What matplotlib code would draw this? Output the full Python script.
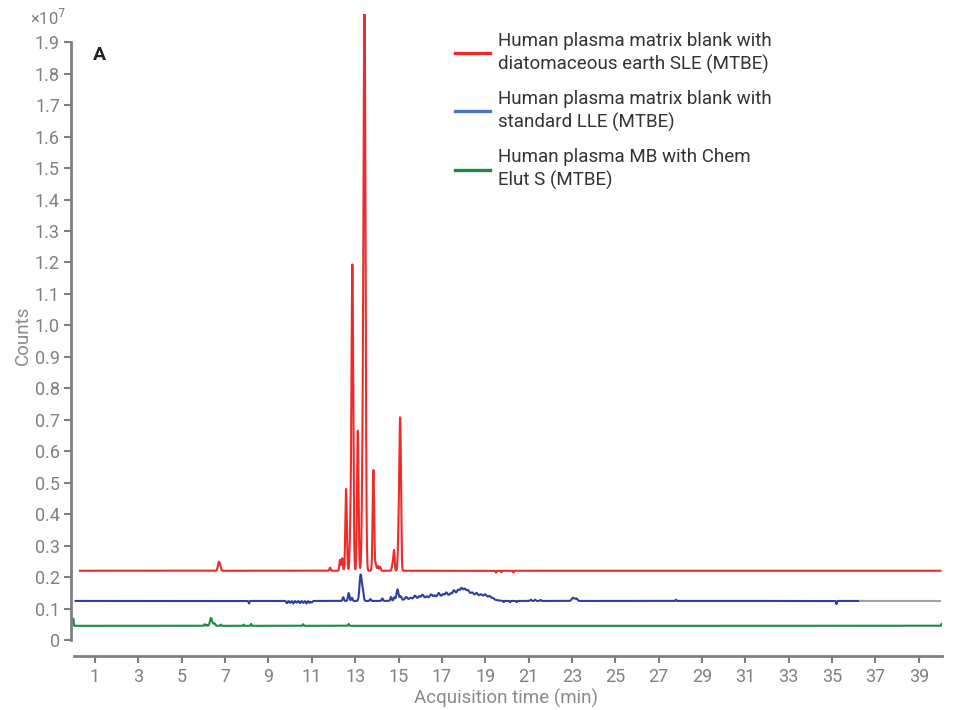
import numpy as np
import matplotlib
matplotlib.use("Agg")
import matplotlib.pyplot as plt
from matplotlib.lines import Line2D

plt.rcParams['font.family'] = ['Roboto', 'DejaVu Sans']

# ---------------- data ----------------
x_ticks = [1, 3, 5, 7, 9, 11, 13, 15, 17, 19, 21, 23, 25, 27, 29, 31, 33, 35, 37, 39]
y_ticks = [0, 0.1, 0.2, 0.3, 0.4, 0.5, 0.6, 0.7, 0.8, 0.9, 1.0, 1.1, 1.2, 1.3, 1.4, 1.5, 1.6, 1.7, 1.8, 1.9]
y_ticklabels = ["0", "0.1", "0.2", "0.3", "0.4", "0.5", "0.6", "0.7", "0.8", "0.9", "1.0",
                "1.1", "1.2", "1.3", "1.4", "1.5", "1.6", "1.7", "1.8", "1.9"]

series_names = ["Human plasma matrix blank with\ndiatomaceous earth SLE (MTBE)",
                "Human plasma matrix blank with\nstandard LLE (MTBE)",
                "Human plasma MB with Chem\nElut S (MTBE)"]

# red trace: run range, baseline (x1e7 counts), peak table (time, height above baseline, width)
red_range = [0.3, 40.0]
red_base = 0.22
red_rt = [6.70, 6.76, 11.84, 12.30, 12.40, 12.58, 12.78, 12.87, 13.12,
          13.34, 13.43, 13.84, 13.95, 14.05, 14.15, 14.72, 14.79, 15.02, 15.08,
          19.50, 19.75, 20.30]
red_h = [0.022, 0.015, 0.010, 0.035, 0.040, 0.26, 0.12, 0.97, 0.445,
         0.25, 1.85, 0.32, 0.020, 0.015, 0.012, 0.020, 0.065, 0.16, 0.43,
         -0.006, -0.005, -0.006]
red_w = [0.04, 0.04, 0.03, 0.03, 0.03, 0.035, 0.035, 0.04, 0.035,
         0.04, 0.045, 0.035, 0.03, 0.03, 0.03, 0.03, 0.03, 0.04, 0.035,
         0.02, 0.02, 0.02]

# blue trace
blue_range = [0.1, 36.3]
blue_base = 0.124
blue_rt = [8.10, 9.85, 10.00, 10.15, 10.30, 10.45, 10.60, 10.75, 10.90, 11.00,
           12.45, 12.70, 12.85, 13.25, 13.35, 13.70, 14.25, 14.65, 14.80, 14.95, 15.10,
           15.35, 15.55, 15.75, 15.95, 16.10, 16.30, 16.50, 16.65, 16.85, 17.05, 17.20,
           17.40, 17.55, 17.75, 17.90, 18.05, 18.20, 18.40, 18.60, 18.80, 19.00, 19.20,
           19.35, 19.85, 20.15, 20.45, 21.10, 21.30, 21.55, 23.05, 23.20, 27.80, 35.20,
           16.00, 17.30, 18.05, 18.90]
blue_h = [-0.008, -0.007, -0.006, -0.008, -0.005, -0.007, -0.006, -0.008, -0.006, -0.005,
          0.012, 0.025, 0.010, 0.083, 0.030, 0.006, 0.008, 0.012, 0.010, 0.035, 0.012,
          0.008, 0.004, 0.009, 0.006, 0.010, 0.004, 0.009, 0.005, 0.011, 0.006, 0.010,
          0.005, 0.012, 0.009, 0.012, 0.010, 0.008, 0.006, 0.008, 0.005, 0.007, 0.006,
          0.004, -0.004, -0.004, -0.004, 0.004, 0.004, 0.003, 0.010, 0.008, 0.004, -0.010,
          0.008, 0.015, 0.022, 0.014]
blue_w = [0.02, 0.03, 0.03, 0.03, 0.03, 0.03, 0.03, 0.03, 0.03, 0.03,
          0.03, 0.035, 0.03, 0.05, 0.04, 0.03, 0.03, 0.03, 0.03, 0.05, 0.04,
          0.05, 0.04, 0.05, 0.04, 0.05, 0.04, 0.05, 0.04, 0.05, 0.04, 0.05,
          0.04, 0.05, 0.05, 0.05, 0.05, 0.05, 0.05, 0.05, 0.05, 0.05, 0.05,
          0.04, 0.02, 0.02, 0.02, 0.03, 0.03, 0.03, 0.06, 0.05, 0.02, 0.02,
          0.60, 0.60, 0.35, 0.35]
grey_range = [36.3, 40.0]

# green trace
green_range = [0.0, 40.05]
green_base = 0.045
green_rt = [0.0, 6.05, 6.15, 6.35, 6.50, 6.80, 7.85, 8.20, 10.60, 12.70, 40.05]
green_h = [0.022, 0.005, 0.004, 0.025, 0.008, 0.004, 0.004, 0.006, 0.005, 0.006, 0.006]
green_w = [0.012, 0.02, 0.02, 0.05, 0.04, 0.02, 0.015, 0.02, 0.02, 0.02, 0.012]


def trace(rng, base, rts, hs, ws):
    t = np.arange(rng[0], rng[1] + 1e-9, 0.004)
    y = np.full_like(t, base)
    for r, h, w in zip(rts, hs, ws):
        y += h * np.exp(-0.5 * ((t - r) / w) ** 2)
    return t, y


# ---------------- figure ----------------
fig = plt.figure(figsize=(9.56, 7.10), dpi=100)
ax = fig.add_axes([71 / 956, 1 - 656 / 710, 871 / 956, 642 / 710])

grey = '#7f7f7f'
tr, yr = trace(red_range, red_base, red_rt, red_h, red_w)
tb, yb = trace(blue_range, blue_base, blue_rt, blue_h, blue_w)
tg, yg = trace(green_range, green_base, green_rt, green_h, green_w)

ax.plot(tr, yr, color='#ee2a2a', lw=1.5, zorder=3)
ax.plot(tb, yb, color='#2e3f9e', lw=1.5, zorder=2)
ax.plot(grey_range, [blue_base, blue_base], color='#a0a0a0', lw=1.5, zorder=2)
ax.plot(tg, yg, color='#1b8c47', lw=1.5, zorder=2)

ax.set_xlim(-0.11, 40.07)
ax.set_ylim(-0.051, 1.99)

for s in ['top', 'right']:
    ax.spines[s].set_visible(False)
for s in ['left', 'bottom']:
    ax.spines[s].set_color(grey)
    ax.spines[s].set_linewidth(2)
ax.spines['left'].set_bounds(0, 1.9)
ax.spines['bottom'].set_bounds(0.03, 40.07)

ax.set_xticks(x_ticks)
ax.set_yticks(y_ticks)
ax.set_yticklabels(y_ticklabels)
ax.tick_params(axis='both', colors=grey, labelcolor='#808080', labelsize=13,
               width=1.5, length=5, direction='out')
ax.tick_params(axis='x', pad=4)
ax.tick_params(axis='y', pad=3)

ax.set_xlabel('Acquisition time (min)', color='#8a8a8a', fontsize=13.5, labelpad=2)
ax.set_ylabel('Counts', color='#8a8a8a', fontsize=13.5, labelpad=2)

fig.text(30 / 956, 1 - 18 / 710, '×10$^{7}$', color='#808080', fontsize=12,
         va='center', ha='left')
fig.text(93 / 956, 1 - 55 / 710, 'A', fontsize=14, fontweight='bold', color='#222222',
         va='center', ha='left')

handles = [Line2D([], [], color='#ee2a2a', lw=2.4),
           Line2D([], [], color='#4f74c0', lw=2.4),
           Line2D([], [], color='#1a8a45', lw=2.4)]
leg = fig.legend(handles, series_names, loc='upper left',
                 bbox_to_anchor=(455 / 956, 1 - 32 / 710), frameon=False,
                 fontsize=13.5, handlelength=1.87, handletextpad=0.43, labelspacing=0.88,
                 borderaxespad=0, borderpad=0)
for t in leg.get_texts():
    t.set_color('#333333')
    t.set_linespacing(1.3)

fig.savefig('out.png', dpi=100)
